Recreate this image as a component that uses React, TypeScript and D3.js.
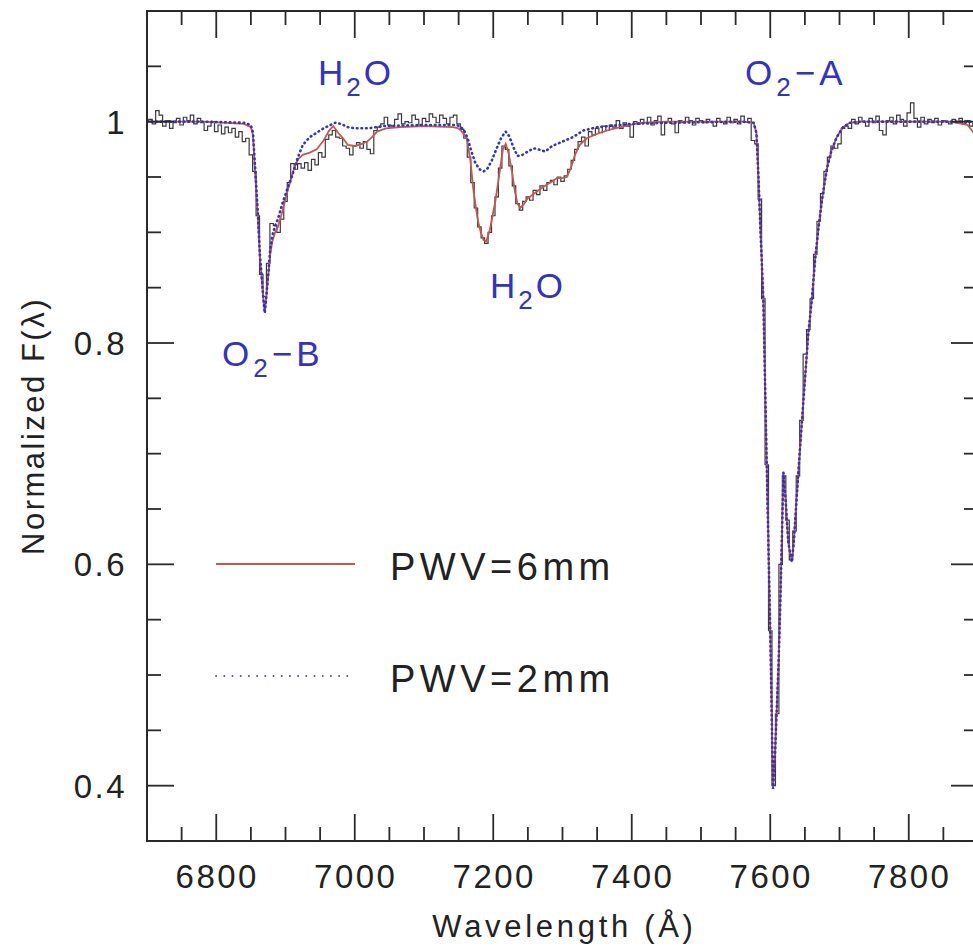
import React from "react";
import * as d3 from "d3";

// ---------- data ----------
const obsStart = 6700;
const obsStep = 5;
const observedFlux = [
  1.000, 1.002, 0.998, 1.010, 1.006, 0.996, 1.001, 0.994, 0.999, 1.003,
  0.997, 1.004, 1.001, 1.006, 0.998, 1.003, 0.999, 0.992, 0.996, 1.000,
  0.991, 0.997, 0.989, 0.995, 0.990, 0.994, 0.986, 0.991, 0.982, 0.985,
  0.970, 0.955, 0.915, 0.862, 0.842, 0.872, 0.908, 0.906, 0.900, 0.912,
  0.928, 0.945, 0.962, 0.957, 0.962, 0.958, 0.963, 0.956, 0.966, 0.961,
  0.972, 0.968, 0.984, 0.988, 0.992, 0.986, 0.985, 0.978, 0.976, 0.970,
  0.978, 0.981, 0.976, 0.982, 0.975, 0.971, 0.992, 0.995, 0.998, 1.004,
  0.997, 0.996, 1.002, 1.007, 0.998, 1.000, 0.999, 1.006, 1.002, 0.997,
  1.003, 1.000, 1.007, 1.004, 0.999, 1.006, 1.003, 0.998, 1.004, 1.006,
  0.998, 0.993, 0.985, 0.968, 0.945, 0.922, 0.905, 0.895, 0.890, 0.900,
  0.915, 0.932, 0.958, 0.978, 0.975, 0.960, 0.942, 0.926, 0.920, 0.928,
  0.932, 0.929, 0.938, 0.934, 0.942, 0.938, 0.945, 0.947, 0.943, 0.950,
  0.946, 0.951, 0.957, 0.965, 0.975, 0.982, 0.986, 0.978, 0.991, 0.988,
  0.994, 0.990, 0.996, 0.992, 0.997, 0.995, 1.001, 0.994, 0.999, 0.996,
  0.986, 1.000, 0.998, 1.002, 0.999, 1.004, 0.997, 1.001, 1.005, 0.988,
  1.000, 1.003, 0.998, 0.990, 1.001, 0.999, 1.004, 1.001, 0.997, 1.003,
  1.001, 0.999, 1.002, 1.000, 0.996, 1.003, 1.000, 0.998, 1.004, 0.999,
  1.002, 0.998, 1.005, 1.000, 1.003, 0.983, 0.980, 0.930, 0.840, 0.690,
  0.540, 0.400, 0.465, 0.600, 0.680, 0.640, 0.604, 0.630, 0.680, 0.730,
  0.790, 0.812, 0.840, 0.880, 0.910, 0.935, 0.955, 0.968, 0.978, 0.976,
  0.980, 0.994, 0.996, 0.994, 1.002, 0.998, 1.004, 1.000, 0.996, 1.003,
  0.999, 1.005, 0.992, 0.988, 1.001, 1.004, 0.998, 1.006, 1.002, 0.996,
  1.008, 1.017, 1.003, 0.995, 1.004, 0.998, 1.002, 0.999, 1.003, 0.997,
  1.001, 1.000, 0.998, 1.002, 0.999, 1.003, 0.998, 1.001, 0.996, 0.999,
  0.997,
];
const observedWave = observedFlux.map((_, i) => obsStart + i * obsStep);

const pwv2Wave = [
  6700, 6780, 6840, 6850, 6853, 6856, 6860, 6863, 6866, 6868, 6870, 6872, 6875, 6878, 6881,
  6885, 6889, 6895, 6902, 6911, 6918, 6925, 6935, 6945, 6955, 6965, 6972, 6980, 6990, 7000,
  7020, 7040, 7100, 7145, 7152, 7158, 7163, 7168, 7174, 7180, 7186, 7192, 7198, 7205, 7212,
  7218, 7223, 7229, 7235, 7242, 7250, 7258, 7265, 7275, 7285, 7300, 7315, 7330, 7350, 7400,
  7450, 7560, 7576, 7580, 7583, 7586, 7590, 7595, 7600, 7604, 7607, 7609, 7612, 7614, 7617,
  7619, 7622, 7626, 7631, 7634, 7638, 7643, 7648, 7655, 7660, 7665, 7670, 7676, 7682, 7688,
  7696, 7705, 7715, 7730, 7900,
];
const pwv2Flux = [
  1.0, 1.0, 0.999, 0.997, 0.99, 0.96, 0.918, 0.88, 0.857, 0.84, 0.827, 0.84, 0.862, 0.885, 0.897,
  0.906, 0.912, 0.925, 0.938, 0.954, 0.968, 0.979, 0.986, 0.99, 0.994, 0.997, 0.999, 0.998, 0.995, 0.994,
  0.994, 0.996, 0.997, 0.997, 0.996, 0.992, 0.985, 0.974, 0.963, 0.957, 0.955, 0.958, 0.965, 0.976, 0.986,
  0.991, 0.987, 0.977, 0.969, 0.97, 0.973, 0.976, 0.975, 0.973, 0.978, 0.982, 0.986, 0.992, 0.995, 0.998,
  0.999, 1.0, 0.999, 0.99, 0.95, 0.9, 0.84, 0.688, 0.539, 0.397, 0.43, 0.463, 0.51, 0.553, 0.629,
  0.683, 0.66, 0.62, 0.602, 0.62, 0.659, 0.705, 0.749, 0.809, 0.839, 0.877, 0.906, 0.935, 0.958, 0.973,
  0.986, 0.995, 0.999, 1.0, 1.0,
];

const pwv6Wave = [
  6700, 6780, 6840, 6850, 6853, 6856, 6860, 6863, 6866, 6868, 6870, 6872, 6875, 6878, 6881,
  6885, 6889, 6895, 6902, 6911, 6918, 6925, 6935, 6945, 6955, 6963, 6969, 6976, 6983, 6990,
  7000, 7010, 7018, 7025, 7032, 7045, 7066, 7100, 7142, 7150, 7156, 7162, 7167, 7171, 7175,
  7178, 7182, 7186, 7190, 7195, 7199, 7203, 7207, 7210, 7214, 7218, 7222, 7227, 7231, 7235,
  7239, 7245, 7250, 7257, 7263, 7270, 7277, 7285, 7292, 7300, 7306, 7312, 7318, 7325, 7335,
  7354, 7370, 7390, 7412, 7450, 7560, 7576, 7580, 7583, 7586, 7590, 7595, 7600, 7604, 7607,
  7609, 7612, 7614, 7617, 7619, 7622, 7626, 7631, 7634, 7638, 7643, 7648, 7655, 7660, 7665,
  7670, 7676, 7682, 7688, 7696, 7705, 7715, 7730, 7860, 7885, 7900,
];
const pwv6Flux = [
  1.0, 1.0, 0.998, 0.995, 0.988, 0.955, 0.915, 0.878, 0.855, 0.84, 0.828, 0.84, 0.86, 0.88, 0.892,
  0.9, 0.905, 0.918, 0.935, 0.955, 0.966, 0.97, 0.972, 0.975, 0.983, 0.992, 0.996, 0.99, 0.985, 0.979,
  0.978, 0.98, 0.982, 0.986, 0.991, 0.994, 0.995, 0.996, 0.995, 0.994, 0.99, 0.984, 0.965, 0.94, 0.922,
  0.91, 0.9, 0.893, 0.892, 0.902, 0.915, 0.928, 0.945, 0.958, 0.975, 0.98, 0.972, 0.955, 0.938, 0.926,
  0.922, 0.926, 0.931, 0.934, 0.937, 0.94, 0.943, 0.946, 0.949, 0.949, 0.95, 0.958, 0.97, 0.979, 0.985,
  0.99, 0.993, 0.996, 0.999, 1.0, 1.0, 0.999, 0.99, 0.95, 0.9, 0.84, 0.688, 0.539, 0.397, 0.43,
  0.463, 0.51, 0.553, 0.629, 0.683, 0.66, 0.62, 0.602, 0.62, 0.659, 0.705, 0.749, 0.809, 0.839, 0.877,
  0.906, 0.935, 0.958, 0.973, 0.986, 0.995, 0.999, 1.0, 1.0, 0.997, 0.985,
];

const xTickLabels = [6800, 7000, 7200, 7400, 7600, 7800];
const yTickLabels = [0.4, 0.6, 0.8, 1];
const legendLabels = ["PWV=6mm", "PWV=2mm"];

// ---------- layout ----------
const W = 973;
const H = 949;
const left = 147;
const right = 978;
const top = 11;
const bottom = 841;

const FONT = "'Liberation Sans', Arial, sans-serif";
const AXIS = "#2a2a2a";
const BLUE = "#3232c4";
const RED = "#c4574e";

export default function App() {
  const x = d3.scaleLinear().domain([6700, 7900]).range([left, right]);
  const y = d3.scaleLinear().domain([0.35, 1.1]).range([bottom, top]);

  const pair = (w: number[], f: number[]) => w.map((v, i) => [v, f[i]] as [number, number]);
  const obsPath = d3
    .line<[number, number]>()
    .x((d) => x(d[0]))
    .y((d) => y(d[1]))
    .curve(d3.curveStep)(pair(observedWave, observedFlux));
  const linear = d3
    .line<[number, number]>()
    .x((d) => x(d[0]))
    .y((d) => y(d[1]));
  const p6 = linear(pair(pwv6Wave, pwv6Flux));
  const p2 = linear(pair(pwv2Wave, pwv2Flux));

  const xTicks = d3.range(6700, 7901, 50);
  const yTicks = d3.range(0.35, 1.1001, 0.05).map((v) => Math.round(v * 100) / 100);
  const isMajorX = (v: number) => v % 200 === 0;
  const isMajorY = (v: number) => Math.abs(Math.round(v * 100) % 20) === 0;

  const txt = { fontFamily: FONT, fill: "#222" } as const;

  return (
    <svg
      width={W}
      height={H}
      style={{ position: "absolute", left: 0, top: 0, background: "#fff" }}
    >
      <defs>
        <clipPath id="plot">
          <rect x={left} y={top} width={right - left} height={bottom - top} />
        </clipPath>
      </defs>
      <rect x={0} y={0} width={W} height={H} fill="#fff" />

      <g clipPath="url(#plot)">
        <path d={obsPath || ""} fill="none" stroke="#3a3a3a" strokeWidth={1.2} />
        <path d={p6 || ""} fill="none" stroke={RED} strokeWidth={1.8} />
        <path
          d={p2 || ""}
          fill="none"
          stroke={BLUE}
          strokeWidth={2.6}
          strokeLinecap="round"
          strokeDasharray="0.6 4"
        />
      </g>

      {/* frame */}
      <rect
        x={left}
        y={top}
        width={right - left}
        height={bottom - top}
        fill="none"
        stroke={AXIS}
        strokeWidth={2}
      />
      {xTicks.map((v) => {
        const len = isMajorX(v) ? 27 : 14;
        return (
          <g key={"x" + v}>
            <line x1={x(v)} x2={x(v)} y1={bottom} y2={bottom - len} stroke={AXIS} strokeWidth={1.8} />
            <line x1={x(v)} x2={x(v)} y1={top} y2={top + len} stroke={AXIS} strokeWidth={1.8} />
          </g>
        );
      })}
      {yTicks.map((v) => {
        const len = isMajorY(v) ? 27 : 14;
        return (
          <g key={"y" + v}>
            <line x1={left} x2={left + len} y1={y(v)} y2={y(v)} stroke={AXIS} strokeWidth={1.8} />
            <line x1={right} x2={right - len} y1={y(v)} y2={y(v)} stroke={AXIS} strokeWidth={1.8} />
          </g>
        );
      })}
      {xTickLabels.map((v) => (
        <text key={"xl" + v} x={x(v) + 1} y={888} textAnchor="middle" fontSize={33} letterSpacing={2.5} {...txt}>
          {v}
        </text>
      ))}
      {yTickLabels.map((v) => (
        <text key={"yl" + v} x={127} y={y(v) + 12} textAnchor="end" fontSize={33} letterSpacing={2.5} {...txt}>
          {String(v)}
        </text>
      ))}
      <text x={(left + right) / 2 + 2} y={937} textAnchor="middle" fontSize={31} letterSpacing={3.7} {...txt}>
        Wavelength (Å)
      </text>
      <text
        transform={`translate(44, ${(top + bottom) / 2}) rotate(-90)`}
        textAnchor="middle"
        fontSize={31}
        letterSpacing={2.5}
        {...txt}
      >
        Normalized F(λ)
      </text>

      {/* legend */}
      <line x1={216} x2={355} y1={564} y2={564} stroke={RED} strokeWidth={2.2} />
      <text x={390} y={580} fontSize={38} letterSpacing={4.5} {...txt}>
        {legendLabels[0]}
      </text>
      <line
        x1={216}
        x2={355}
        y1={676}
        y2={676}
        stroke="#5555aa"
        strokeWidth={1.8}
        strokeLinecap="round"
        strokeDasharray="0.2 8"
      />
      <text x={390} y={692} fontSize={38} letterSpacing={4.5} {...txt}>
        {legendLabels[1]}
      </text>

      {/* annotations */}
      <g fontFamily={FONT} fill={BLUE}>
        <text x={318} y={85} fontSize={35} letterSpacing={3}>
          H<tspan fontSize={26} dy={11}>2</tspan>
          <tspan dy={-11}>O</tspan>
        </text>
        <text x={490} y={298} fontSize={35} letterSpacing={3}>
          H<tspan fontSize={26} dy={11}>2</tspan>
          <tspan dy={-11}>O</tspan>
        </text>
        <text x={222} y={366} fontSize={35} letterSpacing={4}>
          O<tspan fontSize={26} dy={11}>2</tspan>
          <tspan dy={-11}>−B</tspan>
        </text>
        <text x={745} y={85} fontSize={35} letterSpacing={4}>
          O<tspan fontSize={26} dy={11}>2</tspan>
          <tspan dy={-11}>−A</tspan>
        </text>
      </g>
    </svg>
  );
}
